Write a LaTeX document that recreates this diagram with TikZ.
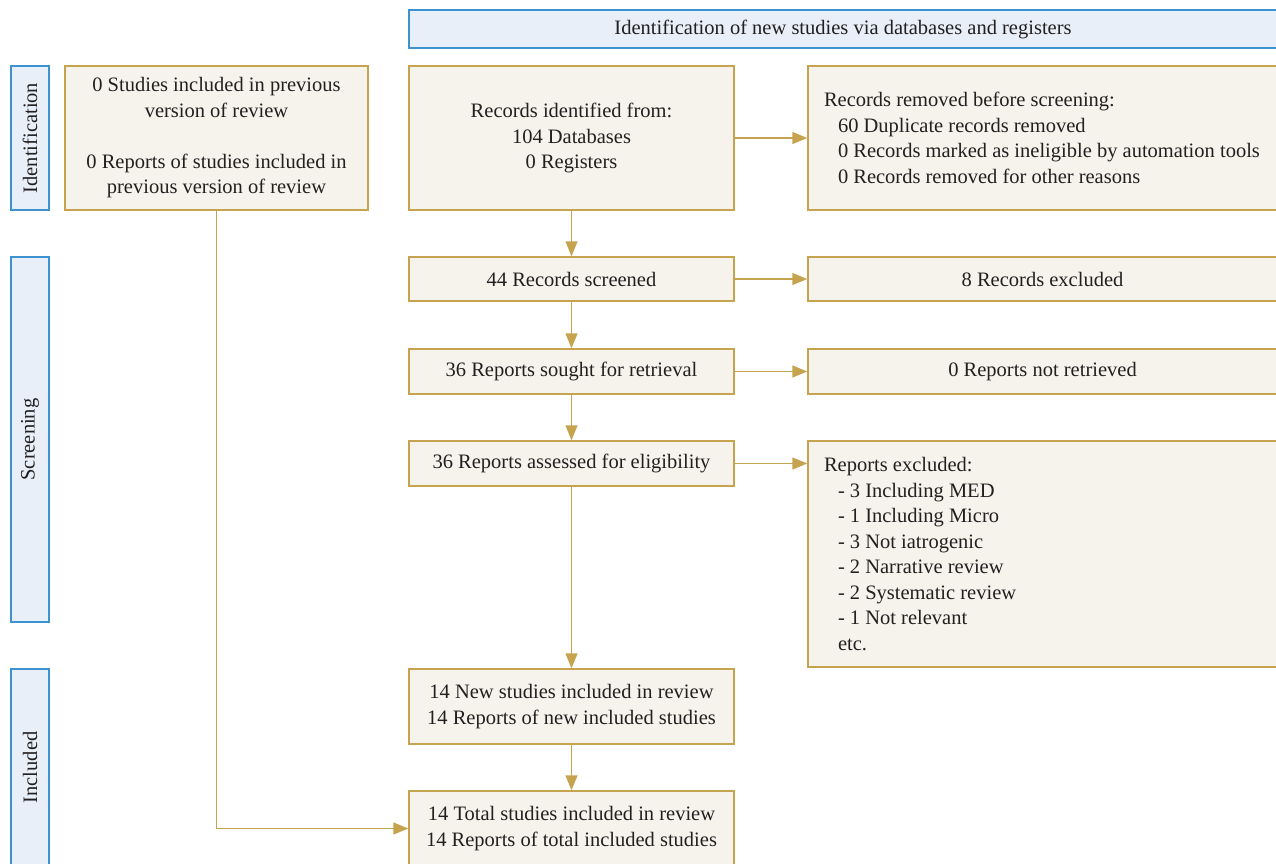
\documentclass[tikz,border=0pt]{standalone}
\usepackage{fontspec}
\setmainfont{Liberation Serif}
\usepackage{xcolor}
\usepackage{tikz}
\usetikzlibrary{positioning}
\usetikzlibrary{arrows.meta}
\definecolor{boxfill}{HTML}{F6F3EC}
\definecolor{boxline}{HTML}{C6A44F}
\definecolor{stagefill}{HTML}{E8EFF8}
\definecolor{stageline}{HTML}{3D93D1}
\definecolor{txt}{HTML}{231F20}
\tikzset{
    x=1pt, y=1pt,
    base text/.style={text=txt, font=\fontsize{20.5}{25.5}\selectfont},
    flow box/.style={base text, draw=boxline, fill=boxfill, line width=1.5pt, inner sep=0pt, align=center},
    side box/.style={base text, draw=boxline, fill=boxfill, line width=1.5pt, inner xsep=16pt, inner ysep=0pt, align=flush left, text width=437pt},
    stage box/.style={base text, draw=stageline, fill=stagefill, line width=1.6pt, inner sep=0pt, align=center},
    stage/.style={stage box, rotate=90, minimum height=38pt},
    flow/.style={draw=boxline, line width=1.5pt, -{Triangle[length=15pt,width=12pt]}}
}

\begin{document}
\begin{tikzpicture}
    \useasboundingbox (0,0) rectangle (1276,-863);
    \begin{scope}
    \clip (0,0) rectangle (1276,-863);
    % stage labels
    \node(header)[stage box, minimum width=868pt, minimum height=38pt] at (843,-29) {Identification of new studies via databases and registers};
    \node(s-ident)[stage, minimum width=144pt] at (30,-138) {Identification};
    \node(s-screen)[stage, minimum width=365pt] at (30,-439.5) {Screening};
    \node(s-incl)[stage, minimum width=197pt] at (30,-767.5) {Included};
    % previous studies
    \node(prev)[flow box, minimum width=303pt, minimum height=144pt] at (216.5,-138)
        {0 Studies included in previous\\version of review\\[25.5pt]0 Reports of studies included in\\previous version of review};
    % main column
    \node(ident)[flow box, minimum width=325pt, minimum height=144pt] at (571.5,-138)
        {Records identified from:\\104 Databases\\0 Registers};
    \node(screened)[flow box, minimum width=325pt, minimum height=44pt] at (571.5,-279) {44 Records screened};
    \node(sought)[flow box, minimum width=325pt, minimum height=45pt] at (571.5,-371.5) {36 Reports sought for retrieval};
    \node(assessed)[flow box, minimum width=325pt, minimum height=45pt] at (571.5,-463.5) {36 Reports assessed for eligibility};
    \node(newinc)[flow box, minimum width=325pt, minimum height=75pt] at (571.5,-706.5)
        {14 New studies included in review\\14 Reports of new included studies};
    \node(total)[flow box, minimum width=325pt, minimum height=75pt] at (571.5,-828.5)
        {14 Total studies included in review\\14 Reports of total included studies};
    % right column
    \node(removed)[side box, minimum height=144pt] at (1042.5,-138)
        {Records removed before screening:\\
        \hspace*{14pt}60 Duplicate records removed\\
        \hspace*{14pt}0 Records marked as ineligible by automation tools\\
        \hspace*{14pt}0 Records removed for other reasons};
    \node(excl)[flow box, minimum width=469pt, minimum height=44pt] at (1042.5,-279) {8 Records excluded};
    \node(notret)[flow box, minimum width=469pt, minimum height=45pt] at (1042.5,-371.5) {0 Reports not retrieved};
    \node(repexcl)[side box, minimum height=226pt] at (1042.5,-554)
        {Reports excluded:\\
        \hspace*{14pt}- 3 Including MED\\
        \hspace*{14pt}- 1 Including Micro\\
        \hspace*{14pt}- 3 Not iatrogenic\\
        \hspace*{14pt}- 2 Narrative review\\
        \hspace*{14pt}- 2 Systematic review\\
        \hspace*{14pt}- 1 Not relevant\\
        \hspace*{14pt}etc.};
    % connectors
    \draw[flow](ident)--(removed);
    \draw[flow](screened)--(excl);
    \draw[flow](sought)--(notret);
    \draw[flow](assessed)--(repexcl.west|-assessed);
    \draw[flow](ident)--(screened);
    \draw[flow](screened)--(sought);
    \draw[flow](sought)--(assessed);
    \draw[flow](assessed)--(newinc);
    \draw[flow](newinc)--(total);
    \draw[flow](prev)|-(total);
    \end{scope}
\end{tikzpicture}
\end{document}
